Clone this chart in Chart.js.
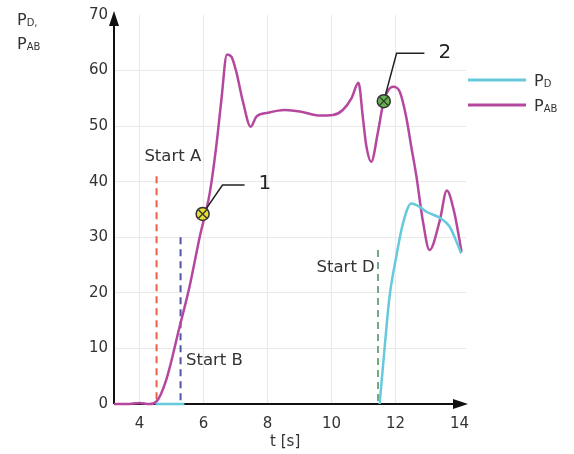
<html>
<head>
    <title>P_D / P_AB</title>
    <script src="https://cdn.jsdelivr.net/npm/chart.js"></script>
</head>
<style>
    body{ margin: 0; background: #fff; }
</style>
<body>
<div style="width:574px;height:454px;"><canvas id="chartCanvas"></canvas></div>
</body>

<script>
// time axis [s] and pressures
const tAB = [3.2, 3.6, 4.0, 4.3, 4.52, 4.83, 5.25, 5.56, 5.88, 6.19, 6.4, 6.55, 6.73, 6.87, 7.02, 7.23, 7.47, 7.65, 8.01, 8.53, 9.05, 9.63, 10.04, 10.35, 10.62, 10.84, 10.98, 11.08, 11.24, 11.45, 11.63, 11.92, 12.13, 12.33, 12.49, 12.65, 12.85, 13.06, 13.38, 13.6, 13.84, 14.06];
const pAB = [0, 0, 0.2, 0, 0.4, 4.3, 13.9, 21.1, 30.1, 37.9, 46.6, 54.4, 62.9, 62.5, 59.8, 54.4, 49.9, 51.7, 52.4, 52.9, 52.6, 51.9, 52.0, 52.9, 55, 57.8, 51.4, 46.6, 43.6, 49, 54.5, 57.1, 56.2, 51.7, 46.3, 41, 33, 27.7, 33, 38.4, 34.3, 27.4];

const tD = [4.5, 5.4, 8, 11.5, 11.66, 11.81, 12.02, 12.23, 12.49, 12.75, 12.96, 13.38, 13.69, 14.05];
const pD = [0, 0, null, 0, 10.3, 19.3, 26.5, 32.5, 36.1, 35.5, 34.6, 33.5, 31.9, 27.1];

const xTicks = [4, 6, 8, 10, 12, 14];
const yTicks = [0, 10, 20, 30, 40, 50, 60, 70];

// dashed start lines: time, top value, label
const startT = [4.53, 5.28, 11.45];
const startTop = [41, 30, 27.7];
const startNames = ['Start A', 'Start B', 'Start D'];
const startColors = ['#e8604a', '#5055a8', '#74a983'];

// numbered points on P_AB
const markT = [5.97, 11.63];
const markV = [34.2, 54.5];
const markNames = ['1', '2'];

const FONT = '"DejaVu Sans", Verdana, sans-serif';
const MAGENTA = '#b5479f';
const CYAN = '#66cadc';

const toPts = (xs, ys) => xs.map((x, i) => ({ x: x, y: ys[i] }));

function arrow(ctx, x1, y1, x2, y2) {
    const a = Math.atan2(y2 - y1, x2 - x1);
    ctx.beginPath();
    ctx.moveTo(x1, y1);
    ctx.lineTo(x2 - 10 * Math.cos(a), y2 - 10 * Math.sin(a));
    ctx.stroke();
    ctx.beginPath();
    ctx.moveTo(x2, y2);
    ctx.lineTo(x2 - 15 * Math.cos(a) + 5 * Math.sin(a), y2 - 15 * Math.sin(a) - 5 * Math.cos(a));
    ctx.lineTo(x2 - 15 * Math.cos(a) - 5 * Math.sin(a), y2 - 15 * Math.sin(a) + 5 * Math.cos(a));
    ctx.closePath();
    ctx.fill();
}

function subText(ctx, x, y, main, sub, size) {
    ctx.textAlign = 'left';
    ctx.textBaseline = 'alphabetic';
    ctx.font = size + 'px ' + FONT;
    ctx.fillText(main, x, y);
    const w = ctx.measureText(main).width;
    ctx.font = Math.round(size * 0.65) + 'px ' + FONT;
    ctx.fillText(sub, x + w, y + 1);
}

function marker(ctx, x, y, fill) {
    ctx.save();
    ctx.beginPath();
    ctx.arc(x, y, 6.5, 0, Math.PI * 2);
    ctx.fillStyle = fill;
    ctx.fill();
    ctx.lineWidth = 1.5;
    ctx.strokeStyle = '#333';
    ctx.stroke();
    ctx.beginPath();
    ctx.moveTo(x - 4, y - 4); ctx.lineTo(x + 4, y + 4);
    ctx.moveTo(x + 4, y - 4); ctx.lineTo(x - 4, y + 4);
    ctx.lineWidth = 1.3;
    ctx.stroke();
    ctx.restore();
}

const axesPlugin = {
    id: 'axesPlugin',
    beforeDatasetsDraw(chart) {
        const { ctx, chartArea: a, scales } = chart;
        const y0 = scales.y.getPixelForValue(0);
        ctx.save();
        ctx.strokeStyle = '#111';
        ctx.fillStyle = '#111';
        ctx.lineWidth = 2;
        arrow(ctx, a.left, y0, a.right + 2, y0);
        arrow(ctx, a.left, y0, a.left, a.top - 4);
        // dashed start lines
        ctx.lineWidth = 2;
        ctx.setLineDash([7, 5]);
        startT.forEach((t, i) => {
            const x = scales.x.getPixelForValue(t);
            ctx.strokeStyle = startColors[i];
            ctx.beginPath();
            ctx.moveTo(x, scales.y.getPixelForValue(startTop[i]));
            ctx.lineTo(x, y0);
            ctx.stroke();
        });
        ctx.restore();
    },
    afterDatasetsDraw(chart) {
        const { ctx, scales } = chart;
        const X = v => scales.x.getPixelForValue(v);
        const Y = v => scales.y.getPixelForValue(v);
        ctx.save();
        ctx.fillStyle = '#333';
        ctx.font = '16.5px ' + FONT;
        ctx.textBaseline = 'middle';
        ctx.textAlign = 'left';
        ctx.fillText(startNames[0], X(4.15), Y(44.5));
        ctx.fillText(startNames[1], X(5.45), Y(7.7));
        ctx.textAlign = 'right';
        ctx.fillText(startNames[2], X(11.35), Y(24.5));

        // leader lines and numbers
        const corners = [[6.59, 39.4, 7.28], [12.03, 63.1, 12.9]];
        ctx.strokeStyle = '#222';
        ctx.lineWidth = 1.5;
        markT.forEach((t, i) => {
            const c = corners[i];
            ctx.beginPath();
            ctx.moveTo(X(t), Y(markV[i]));
            ctx.lineTo(X(c[0]), Y(c[1]));
            ctx.lineTo(X(c[2]), Y(c[1]));
            ctx.stroke();
            ctx.fillStyle = '#222';
            ctx.font = '20px ' + FONT;
            ctx.textAlign = 'left';
            ctx.fillText(markNames[i], X(c[2]) + 14, Y(c[1]) - 1);
        });
        marker(ctx, X(markT[0]), Y(markV[0]), '#e6dc3a');
        marker(ctx, X(markT[1]), Y(markV[1]), '#62b44c');

        // legend
        const lx = 468;
        ctx.lineWidth = 3;
        ctx.strokeStyle = CYAN;
        ctx.beginPath(); ctx.moveTo(lx, 80); ctx.lineTo(lx + 58, 80); ctx.stroke();
        ctx.strokeStyle = MAGENTA;
        ctx.beginPath(); ctx.moveTo(lx, 105); ctx.lineTo(lx + 58, 105); ctx.stroke();
        ctx.fillStyle = '#333';
        subText(ctx, lx + 66, 86, 'P', 'D', 16);
        subText(ctx, lx + 66, 111, 'P', 'AB', 16);

        // axis titles
        subText(ctx, 17, 25, 'P', 'D,', 16);
        subText(ctx, 17, 49, 'P', 'AB', 16);
        ctx.font = '15px ' + FONT;
        ctx.textAlign = 'center';
        ctx.fillText('t [s]', X(8.55), 446);
        ctx.restore();
    }
};

new Chart(document.getElementById('chartCanvas'), {
    type: 'line',
    data: {
        datasets: [
            {
                label: 'PD',
                data: toPts(tD, pD),
                borderColor: CYAN,
                borderWidth: 2.5,
                pointRadius: 0,
                spanGaps: false,
                cubicInterpolationMode: 'monotone',
                clip: false
            },
            {
                label: 'PAB',
                data: toPts(tAB, pAB),
                borderColor: MAGENTA,
                borderWidth: 2.5,
                pointRadius: 0,
                cubicInterpolationMode: 'monotone',
                clip: false
            }
        ]
    },
    options: {
        responsive: true,
        maintainAspectRatio: false,
        animation: false,
        layout: { padding: { left: 0, top: 15, right: 108, bottom: 0 } },
        plugins: { legend: { display: false }, tooltip: { enabled: false } },
        scales: {
            x: {
                type: 'linear',
                min: 3.2,
                max: 14.2,
                afterFit: s => { s.height = 50; },
                afterBuildTicks: s => { s.ticks = xTicks.map(v => ({ value: v })); },
                ticks: { color: '#333', padding: 11, font: { family: FONT, size: 15 } },
                border: { display: false },
                grid: {
                    drawTicks: false,
                    color: c => (c.tick && c.tick.value === 14) ? 'rgba(0,0,0,0)' : '#e9e9e9'
                }
            },
            y: {
                min: 0,
                max: 70,
                afterFit: s => { s.width = 114; },
                afterBuildTicks: s => { s.ticks = yTicks.map(v => ({ value: v })); },
                ticks: { color: '#333', padding: 6, font: { family: FONT, size: 15 } },
                border: { display: false },
                grid: {
                    drawTicks: false,
                    color: c => (c.tick && (c.tick.value === 0 || c.tick.value === 70)) ? 'rgba(0,0,0,0)' : '#e9e9e9'
                }
            }
        }
    },
    plugins: [axesPlugin]
});
</script>
</html>
